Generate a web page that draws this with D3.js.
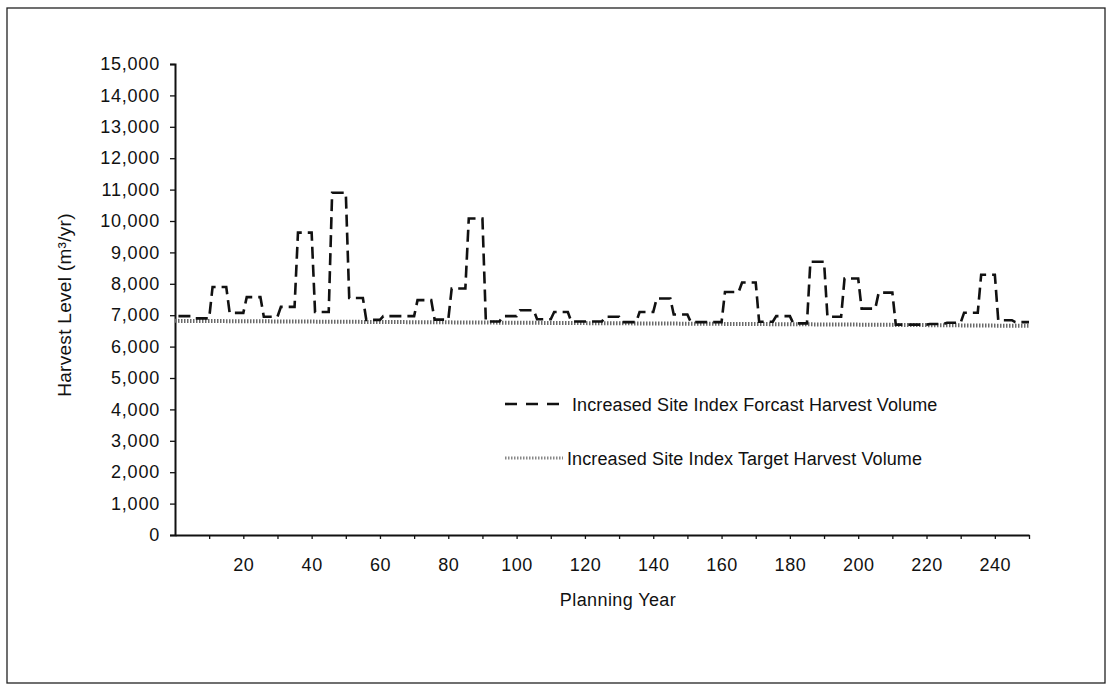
<!DOCTYPE html>
<html><head><meta charset="utf-8">
<script src="https://cdn.jsdelivr.net/npm/d3@7"></script>
<style>body{margin:0;background:#fff}svg{display:block}text{font-family:"Liberation Sans",Arial,sans-serif;fill:#111}</style>
</head><body><svg id="c" width="1110" height="689"></svg>
<script>
// 5-year planning periods (period 1 = years 1-5, ...)
const periodStarts = [1,6,11,16,21,26,31,36,41,46,51,56,61,66,71,76,81,86,91,96,101,106,111,116,121,126,131,136,141,146,151,156,161,166,171,176,181,186,191,196,201,206,211,216,221,226,231,236,241,246];
const forecastVolume = [6970,6900,7900,7075,7575,6950,7265,9630,7100,10900,7550,6850,6970,6970,7480,6860,7850,10080,6800,6970,7160,6870,7100,6800,6800,6950,6780,7100,7530,7020,6780,6780,7740,8040,6790,6970,6740,8700,6950,8170,7210,7720,6700,6700,6720,6760,7080,8290,6840,6780];
const targetYears = [0,50,100,150,200,250];
const targetVolume = [6820,6790,6760,6730,6700,6660];
const yTicks = [0,1000,2000,3000,4000,5000,6000,7000,8000,9000,10000,11000,12000,13000,14000,15000];
const xLabelTicks = [20,40,60,80,100,120,140,160,180,200,220,240];
const xMinorTicks = [10,20,30,40,50,60,70,80,90,100,110,120,130,140,150,160,170,180,190,200,210,220,230,240,250];
const legendLabels = ["Increased Site Index Forcast Harvest Volume","Increased Site Index Target Harvest Volume"];

const svg = d3.select("#c");
const x = d3.scaleLinear().domain([0,250]).range([175,1029]);
const y = d3.scaleLinear().domain([0,15000]).range([535,64]);

svg.append("rect").attr("x",7).attr("y",8).attr("width",1098).attr("height",675)
  .attr("fill","none").attr("stroke","#222").attr("stroke-width",1.3);

// y axis
const yAxis = svg.append("g").attr("transform","translate(175,0)")
  .call(d3.axisLeft(y).tickValues(yTicks).tickFormat(d3.format(",")).tickSize(5).tickPadding(10));
yAxis.select(".domain").attr("stroke","#111").attr("stroke-width",2);
yAxis.selectAll(".tick line").attr("stroke","#111").attr("stroke-width",1.3);
yAxis.selectAll("text").attr("font-size",18).attr("letter-spacing","0.8px")
  .attr("font-family","Liberation Sans, Arial, sans-serif").attr("fill","#111");

// x axis
const xAxis = svg.append("g").attr("transform","translate(0,535)")
  .call(d3.axisBottom(x).tickValues(xMinorTicks).tickFormat("").tickSize(4).tickSizeOuter(0));
xAxis.select(".domain").attr("stroke","#111").attr("stroke-width",2);
xAxis.selectAll(".tick line").attr("stroke","#111").attr("stroke-width",1.3);
const xLab = svg.append("g").attr("transform","translate(0,535)")
  .call(d3.axisBottom(x).tickValues(xLabelTicks).tickSize(0).tickPadding(23));
xLab.select(".domain").remove();
xLab.selectAll("text").attr("font-size",18).attr("letter-spacing","0.5px")
  .attr("font-family","Liberation Sans, Arial, sans-serif").attr("fill","#111");

// axis titles
svg.append("text").attr("x",618).attr("y",606).attr("text-anchor","middle").attr("font-size",18)
  .attr("letter-spacing","0.4px").text("Planning Year");
svg.append("text").attr("transform","translate(71,305) rotate(-90)").attr("text-anchor","middle").attr("font-size",19)
  .attr("letter-spacing","0.3px").text("Harvest Level (m³/yr)");

// target line
const targetPts = targetYears.map((t,i)=>[t,targetVolume[i]]);
const line = d3.line().x(d=>x(d[0])).y(d=>y(d[1]));
svg.append("path").datum(targetPts).attr("d",line).attr("fill","none")
  .attr("stroke","#6a6a6a").attr("stroke-width",4).attr("stroke-dasharray","1.5,1.5");

// forecast: flat over each 5-year period, sloped transitions
const fPts = [];
periodStarts.forEach((s,i)=>{ fPts.push([s,forecastVolume[i]]); fPts.push([s+4,forecastVolume[i]]); });
svg.append("path").datum(fPts).attr("d",line).attr("fill","none")
  .attr("stroke","#111").attr("stroke-width",2.6).attr("stroke-dasharray","12,6");

// legend
const lg = svg.append("g");
lg.append("line").attr("x1",505).attr("x2",567).attr("y1",404).attr("y2",404)
  .attr("stroke","#111").attr("stroke-width",2.6).attr("stroke-dasharray","12,9");
lg.append("text").attr("x",572).attr("y",410.5).attr("font-size",18).attr("letter-spacing","0.1px").text(legendLabels[0]);
lg.append("line").attr("x1",505).attr("x2",563).attr("y1",458).attr("y2",458)
  .attr("stroke","#888").attr("stroke-width",3).attr("stroke-dasharray","1.5,1.5");
lg.append("text").attr("x",567).attr("y",464.5).attr("font-size",18).attr("letter-spacing","0.1px").text(legendLabels[1]);
</script></body></html>
